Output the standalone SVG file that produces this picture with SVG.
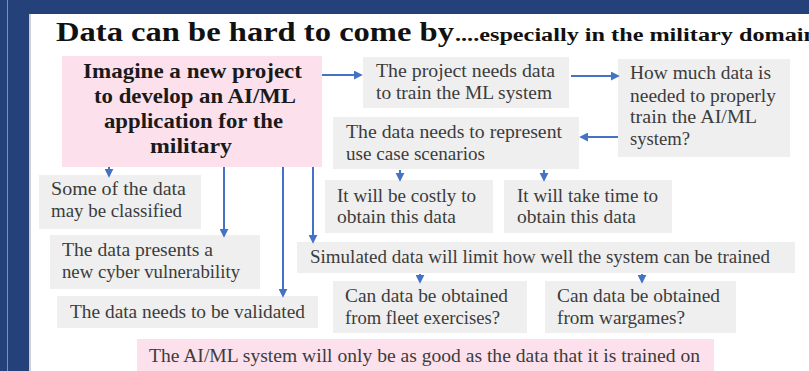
<svg xmlns="http://www.w3.org/2000/svg" width="809" height="371" viewBox="0 0 809 371">
  <style>
    .box { fill: #efefef; }
    .pink { fill: #fce1ec; }
    .t { font-size: 19px; fill: #3c3c3c; }
    .b { font-size: 21px; font-weight: bold; fill: #1a1a1a; }
    .arrow { stroke: #4472c4; stroke-width: 2; fill: none; marker-end: url(#head); }
  </style>
  <defs>
    <marker id="head" viewBox="0 0 10 10" refX="8" refY="5" markerWidth="4.5" markerHeight="4.5" orient="auto" markerUnits="strokeWidth">
      <path d="M0,0 L10,5 L0,10 Z" fill="#4472c4"/>
    </marker>
  </defs>

  <!-- slide frame -->
  <rect x="0" y="0" width="809" height="371" fill="#24417a"/>
  <line x1="7.5" y1="0" x2="7.5" y2="371" stroke="#d9793c" stroke-width="1"/>
  <rect x="29" y="14" width="780" height="357" fill="#ffffff"/>
  <line x1="30" y1="14" x2="30" y2="371" stroke="#cfcfcf" stroke-width="2"/>

  <g font-family="Liberation Serif, serif">
  <!-- heading -->
  <text x="56" y="41" font-size="27" font-weight="bold" fill="#111" textLength="398" lengthAdjust="spacingAndGlyphs">Data can be hard to come by</text>
  <text x="455" y="41" font-size="18" font-weight="bold" fill="#111" textLength="362" lengthAdjust="spacingAndGlyphs">....especially in the military domain</text>

  <g id="start">
    <rect class="pink" x="62" y="56" width="260" height="111"/>
    <text class="b" x="83" y="78" textLength="219" lengthAdjust="spacingAndGlyphs">Imagine a new project</text>
    <text class="b" x="94" y="103" textLength="202" lengthAdjust="spacingAndGlyphs">to develop an AI/ML</text>
    <text class="b" x="104" y="128" textLength="179" lengthAdjust="spacingAndGlyphs">application for the</text>
    <text class="b" x="150" y="153" textLength="82" lengthAdjust="spacingAndGlyphs">military</text>
  </g>

  <g id="needs-data">
    <rect class="box" x="363" y="57" width="206" height="51"/>
    <text class="t" x="376" y="77" textLength="179" lengthAdjust="spacingAndGlyphs">The project needs data</text>
    <text class="t" x="376" y="99" textLength="176" lengthAdjust="spacingAndGlyphs">to train the ML system</text>
  </g>

  <g id="how-much">
    <rect class="box" x="618" y="59" width="172" height="98"/>
    <text class="t" x="630" y="79" textLength="141" lengthAdjust="spacingAndGlyphs">How much data is</text>
    <text class="t" x="630" y="102" textLength="146" lengthAdjust="spacingAndGlyphs">needed to properly</text>
    <text class="t" x="630" y="123" textLength="127" lengthAdjust="spacingAndGlyphs">train the AI/ML</text>
    <text class="t" x="630" y="145" textLength="60" lengthAdjust="spacingAndGlyphs">system?</text>
  </g>

  <g id="represent">
    <rect class="box" x="333" y="117" width="246" height="52"/>
    <text class="t" x="346" y="138" textLength="216" lengthAdjust="spacingAndGlyphs">The data needs to represent</text>
    <text class="t" x="346" y="160" textLength="139" lengthAdjust="spacingAndGlyphs">use case scenarios</text>
  </g>

  <g id="costly">
    <rect class="box" x="325" y="180" width="168" height="53"/>
    <text class="t" x="337" y="202" textLength="139" lengthAdjust="spacingAndGlyphs">It will be costly to</text>
    <text class="t" x="337" y="223" textLength="119" lengthAdjust="spacingAndGlyphs">obtain this data</text>
  </g>

  <g id="time">
    <rect class="box" x="504" y="180" width="168" height="53"/>
    <text class="t" x="517" y="202" textLength="141" lengthAdjust="spacingAndGlyphs">It will take time to</text>
    <text class="t" x="517" y="223" textLength="119" lengthAdjust="spacingAndGlyphs">obtain this data</text>
  </g>

  <g id="classified">
    <rect class="box" x="39" y="175" width="162" height="54"/>
    <text class="t" x="51" y="195" textLength="135" lengthAdjust="spacingAndGlyphs">Some of the data</text>
    <text class="t" x="51" y="217" textLength="131" lengthAdjust="spacingAndGlyphs">may be classified</text>
  </g>

  <g id="cyber">
    <rect class="box" x="50" y="235" width="210" height="54"/>
    <text class="t" x="62" y="256" textLength="151" lengthAdjust="spacingAndGlyphs">The data presents a</text>
    <text class="t" x="62" y="278" textLength="178" lengthAdjust="spacingAndGlyphs">new cyber vulnerability</text>
  </g>

  <g id="validated">
    <rect class="box" x="57" y="296" width="261" height="32"/>
    <text class="t" x="70" y="318" textLength="235" lengthAdjust="spacingAndGlyphs">The data needs to be validated</text>
  </g>

  <g id="simulated">
    <rect class="box" x="297" y="242" width="498" height="31"/>
    <text class="t" x="310" y="263" textLength="460" lengthAdjust="spacingAndGlyphs">Simulated data will limit how well the system can be trained</text>
  </g>

  <g id="fleet">
    <rect class="box" x="333" y="281" width="194" height="52"/>
    <text class="t" x="345" y="302" textLength="163" lengthAdjust="spacingAndGlyphs">Can data be obtained</text>
    <text class="t" x="345" y="324" textLength="155" lengthAdjust="spacingAndGlyphs">from fleet exercises?</text>
  </g>

  <g id="wargames">
    <rect class="box" x="545" y="281" width="191" height="52"/>
    <text class="t" x="557" y="302" textLength="163" lengthAdjust="spacingAndGlyphs">Can data be obtained</text>
    <text class="t" x="557" y="324" textLength="128" lengthAdjust="spacingAndGlyphs">from wargames?</text>
  </g>

  <g id="conclusion">
    <rect class="pink" x="137" y="339" width="577" height="40"/>
    <text class="t" x="149" y="362" textLength="551" lengthAdjust="spacingAndGlyphs">The AI/ML system will only be as good as the data that it is trained on</text>
  </g>
  </g>

  <g id="connectors">
    <line class="arrow" x1="322" y1="75" x2="361" y2="75"/>
    <line class="arrow" x1="571" y1="76" x2="618" y2="76"/>
    <line class="arrow" x1="618" y1="137" x2="581" y2="137"/>
    <line class="arrow" x1="400" y1="170" x2="400" y2="180"/>
    <line class="arrow" x1="544" y1="170" x2="544" y2="180"/>
    <line class="arrow" x1="109" y1="167" x2="109" y2="176"/>
    <line class="arrow" x1="224" y1="167" x2="224" y2="236"/>
    <line class="arrow" x1="283" y1="167" x2="283" y2="296"/>
    <line class="arrow" x1="313" y1="167" x2="313" y2="242"/>
    <line class="arrow" x1="420" y1="274" x2="420" y2="282"/>
    <line class="arrow" x1="642" y1="274" x2="642" y2="282"/>
  </g>
</svg>
